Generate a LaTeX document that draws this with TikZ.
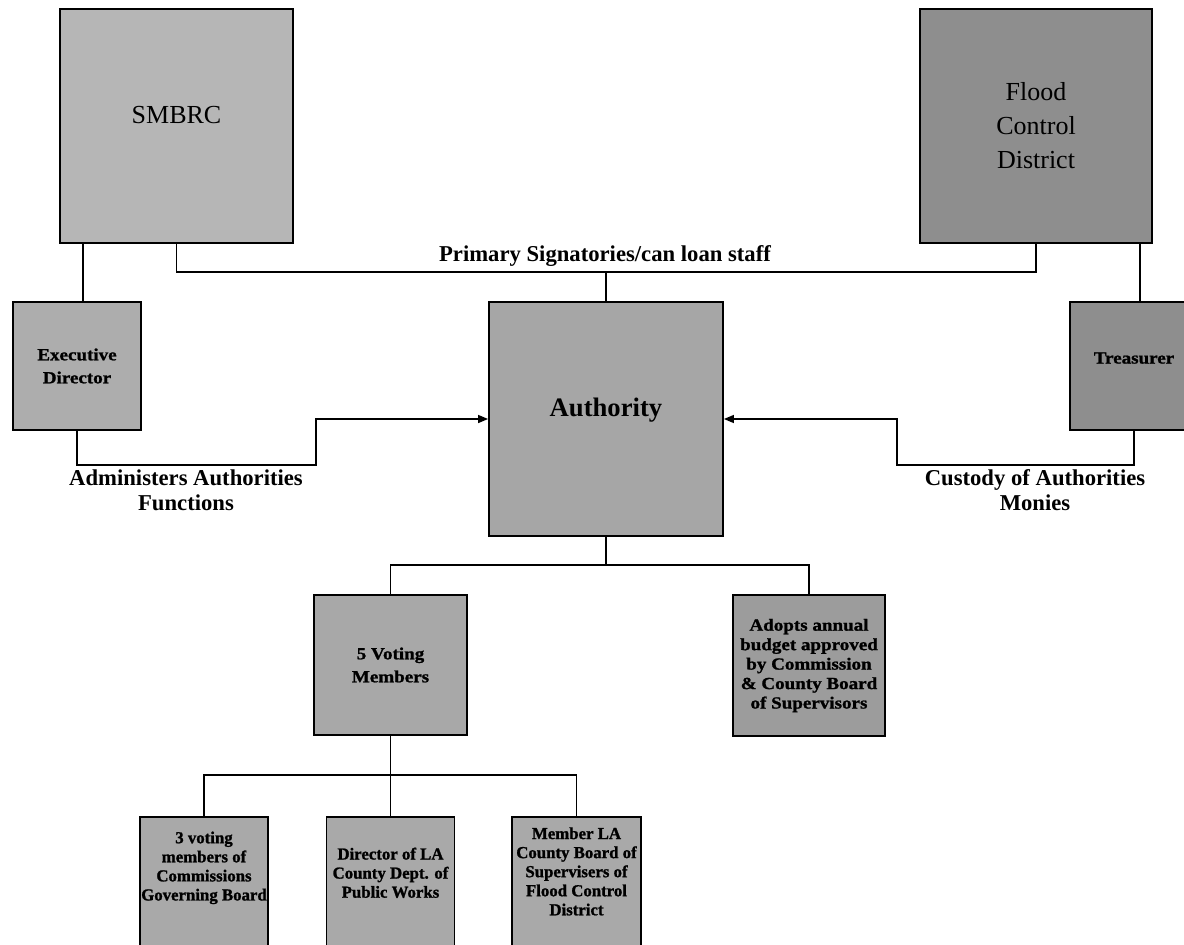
\documentclass[tikz,border=0pt]{standalone}
\usepackage{fontspec}
\setmainfont{Liberation Serif}
\newfontfamily\boxfont{Liberation Serif}[FakeStretch=1.12, BoldFeatures={FakeBold=1.2}]
\newfontfamily\lowfont{Liberation Serif}[BoldFeatures={FakeBold=1.2}]
\usetikzlibrary{arrows.meta}
\definecolor{gSmb}{HTML}{B6B6B6}
\definecolor{gFlood}{HTML}{8E8E8E}
\definecolor{gExec}{HTML}{ADADAD}
\definecolor{gAuth}{HTML}{A6A6A6}
\definecolor{gVote}{HTML}{A8A8A8}
\definecolor{gAdopt}{HTML}{9C9C9C}
\definecolor{gLow}{HTML}{A9A9A9}
\begin{document}
\begin{tikzpicture}[x=0.75pt,y=-0.75pt,
  box/.style={draw=black, line width=1.4pt, rectangle, inner sep=0pt, align=center},
  conn/.style={line width=1.1pt, draw=black},
  arr/.style={conn, -{Triangle[length=7.5pt,width=6pt]}},
  lbl/.style={font=\fontsize{17}{18.75}\selectfont\bfseries, align=center, inner sep=0pt},
  bigtxt/.style={font=\fontsize{19.5}{25.5}\selectfont},
  smallA/.style={font=\boxfont\fontsize{12.75}{17.25}\selectfont\bfseries},
  smallB/.style={font=\boxfont\fontsize{12.75}{14.6}\selectfont\bfseries},
  smallC/.style={font=\lowfont\fontsize{12.6}{14.3}\selectfont\bfseries},
]
\useasboundingbox (0,0) rectangle (1184,945);

% top boxes
\node[box, fill=gSmb, minimum width=174.75pt, minimum height=175.5pt, bigtxt]
  (smbrc) at (176.5,126) {SMBRC\rule[-16.5pt]{0pt}{0pt}};
\node[box, fill=gFlood, minimum width=174pt, minimum height=175.5pt, bigtxt]
  (flood) at (1036,126) {Flood\\Control\\District};

% second row
\node[box, fill=gExec, minimum width=96pt, minimum height=96pt, smallA]
  (exec) at (77,366) {Executive\\Director};
\node[box, fill=gFlood, minimum width=96pt, minimum height=96pt, smallA]
  (treas) at (1134,366) {Treasurer\rule[-12pt]{0pt}{0pt}};
\node[box, fill=gAuth, minimum width=175.5pt, minimum height=175.5pt,
  font=\fontsize{20}{24}\selectfont\bfseries]
  (auth) at (606,419) {Authority\rule[-18pt]{0pt}{0pt}};

% third row
\node[box, fill=gVote, minimum width=114.75pt, minimum height=105pt, smallA]
  (voting) at (390.5,665) {5 Voting\\Members};
\node[box, fill=gAdopt, minimum width=114pt, minimum height=105.75pt, smallB]
  (adopt) at (809,665.5) {Adopts annual\\budget approved\\by Commission\\\& County Board\\of Supervisors};

% bottom row
\node[box, fill=gLow, minimum width=96pt, minimum height=103.5pt, smallC]
  (b1) at (204,886) {3 voting\\members of\\Commissions\\Governing Board\rule[-30pt]{0pt}{0pt}};
\node[box, fill=gLow, minimum width=96pt, minimum height=103.5pt, smallC]
  (b2) at (390.5,886) {Director of LA\\County Dept. of\\Public Works\rule[-20pt]{0pt}{0pt}};
\node[box, fill=gLow, minimum width=96.75pt, minimum height=103.5pt, smallC]
  (b3) at (576.5,886) {Member LA\\County Board of\\Supervisers of\\Flood Control\\District\rule[-22pt]{0pt}{0pt}};

% labels
\node[lbl] (lblsig) at (605,256) {Primary Signatories/can loan staff};
\node[lbl] (lbladm) at (186,490) {Administers Authorities\\Functions};
\node[lbl] (lblcus) at (1035,490) {Custody of Authorities\\Monies};

% junction coordinates
\coordinate (sig) at (606,272);
\coordinate (ea) at (316,465);
\coordinate (ta) at (897,465);
\coordinate (ab) at (606,565);
\coordinate (vb) at (390.5,775);

% connectors
\draw[conn] (smbrc.south) |- (sig) -| (flood.south);
\draw[conn] (sig) -- (auth.north);
\draw[conn] ([xshift=4.5pt]exec.north) -- ([xshift=4.5pt]exec.north |- smbrc.south);
\draw[conn] ([xshift=4.5pt]treas.north) -- ([xshift=4.5pt]treas.north |- flood.south);
\draw[arr] (exec.south) |- (ea) |- (auth.west);
\draw[arr] (treas.south) |- (ta) |- (auth.east);
\draw[conn] (auth.south) -- (ab);
\draw[conn] (ab) -| (voting.north);
\draw[conn] (ab) -| (adopt.north);
\draw[conn] (voting.south) -- (vb);
\draw[conn] (vb) -| (b1.north);
\draw[conn] (vb) -- (b2.north);
\draw[conn] (vb) -| (b3.north);
\end{tikzpicture}
\end{document}
